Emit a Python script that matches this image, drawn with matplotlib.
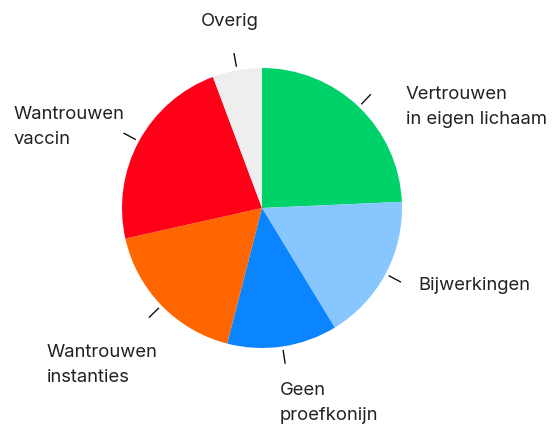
import numpy as np
import matplotlib.pyplot as plt

labels = ["Vertrouwen\nin eigen lichaam", "Bijwerkingen", "Geen\nproefkonijn",
          "Wantrouwen\ninstanties", "Wantrouwen\nvaccin", "Overig"]
values = [24.3, 17.0, 12.7, 17.5, 22.8, 5.7]
colors = ["#00D26A", "#88C6FF", "#0A84FF", "#FF6600", "#FF0019", "#EEEEEE"]

# label anchor (pixels from top-left) and alignment
label_pos = [(406, 107, "left"), (418, 286, "left"), (280, 403, "left"),
             (47, 365, "left"), (14, 127, "left"), (230, 22, "center")]

W, H = 555, 427
cx, cy, R = 262, H - 209, 140

fig = plt.figure(figsize=(W / 100, H / 100), dpi=100)
ax = fig.add_axes([0, 0, 1, 1])

wedges, _ = ax.pie(values, colors=colors, startangle=90, counterclock=False,
                   radius=R, center=(cx, cy))
ax.set_xlim(0, W)
ax.set_ylim(0, H)
ax.set_aspect("equal")
ax.axis("off")

for w, (x, y, ha), lab in zip(wedges, label_pos, labels):
    mid = np.deg2rad((w.theta1 + w.theta2) / 2)
    r0, r1 = R * 1.03, R * 1.12
    ax.plot([cx + r0 * np.cos(mid), cx + r1 * np.cos(mid)],
            [cy + r0 * np.sin(mid), cy + r1 * np.sin(mid)],
            color="#111111", lw=1)
    ax.text(x, H - y, lab, ha=ha, va="center", fontsize=13.3,
            family="Inter", color="#222222", linespacing=1.6)

fig.savefig("out.png", dpi=100)
